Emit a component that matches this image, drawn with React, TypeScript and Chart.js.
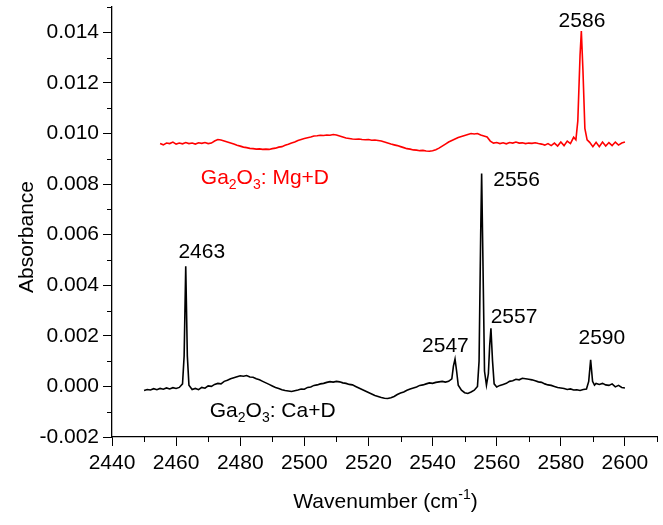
import React, { useEffect, useRef } from 'react';
import { Chart, registerables } from 'chart.js';

Chart.register(...registerables);

// ---- Data ----
const caWavenumber = [
  2450, 2451, 2452, 2453, 2454, 2455, 2456, 2457, 2458, 2459, 2460, 2461, 2462, 2462.5, 2463, 2463.5, 2464,
  2465, 2466, 2467, 2468, 2469, 2470, 2471, 2472, 2473, 2474, 2475, 2476, 2477, 2478, 2479, 2480,
  2481, 2482, 2483, 2484, 2485, 2486, 2487, 2488, 2489, 2490, 2491, 2492, 2493, 2494, 2495, 2496,
  2497, 2498, 2499, 2500, 2501, 2502, 2503, 2504, 2505, 2506, 2507, 2508, 2509, 2510, 2511, 2512,
  2513, 2514, 2515, 2516, 2517, 2518, 2519, 2520, 2521, 2522, 2523, 2524, 2525, 2526, 2527, 2528,
  2529, 2530, 2531, 2532, 2533, 2534, 2535, 2536, 2537, 2538, 2539, 2540, 2541, 2542, 2543, 2544,
  2545, 2546, 2546.5, 2547, 2547.5, 2548, 2549, 2550, 2551, 2552, 2553, 2554, 2554.5, 2555, 2555.3,
  2555.7, 2556.2, 2556.8, 2557.4, 2557.8, 2558.2, 2558.7, 2559.2, 2560, 2561, 2562, 2563, 2564, 2565,
  2566, 2567, 2568, 2569, 2570, 2571, 2572, 2573, 2574, 2575, 2576, 2577, 2578, 2579, 2580, 2581,
  2582, 2583, 2584, 2585, 2586, 2587, 2588, 2588.7, 2589.3, 2589.9, 2590.5, 2591, 2592, 2593, 2594,
  2595, 2596, 2597, 2598, 2599, 2600,
];
const caAbsorbance = [
  -0.00016, -0.00012, -0.00014, -0.00009, -0.00013, -0.00008, -0.00011, -0.00006, -0.0001, -0.00005, -0.00008, -0.00004, 0.0001, 0.0012, 0.00475, 0.0012, 0.00005,
  -0.00012, -0.00008, -0.00013, -0.00004, -0.00007, 0.00002, 0.0, 0.00008, 0.00012, 0.0001, 0.0002, 0.00024, 0.0003, 0.00034, 0.00038, 0.00042,
  0.0004, 0.00043, 0.00037, 0.00036, 0.0003, 0.00026, 0.0002, 0.00014, 0.00008, 0.00002, -0.00004, -0.00008, -0.00013, -0.00016, -0.00018, -0.0002,
  -0.00017, -0.00014, -0.0001, -0.00011, -0.00004, -0.00002, 0.00004, 0.00006, 0.0001, 0.00012, 0.00016, 0.00019, 0.00017, 0.0002, 0.00018, 0.00014,
  0.00012, 0.00008, 0.00006, 0.0, -0.00006, -0.00012, -0.00018, -0.00024, -0.0003, -0.00036, -0.0004, -0.00044, -0.00047, -0.00048, -0.00045, -0.0004,
  -0.00032, -0.00026, -0.00022, -0.00015, -0.0001, -0.00006, -0.00002, 0.00004, 0.00006, 0.0001, 0.00014, 0.00012, 0.00016, 0.00018, 0.0002, 0.00017,
  0.0002, 0.0003, 0.0008, 0.00108, 0.0006, 0.00005, -0.00015, -0.00025, -0.00028, -0.00022, -0.00015, 0.0, 0.001, 0.006, 0.00842,
  0.005, 0.0006, 0.00005, 0.0005, 0.0016, 0.0023, 0.001, 0.0001, -0.00002, 0.00004, 0.00008, 0.00012, 0.0002, 0.00022,
  0.00028, 0.00026, 0.00032, 0.0003, 0.00028, 0.00026, 0.00022, 0.00018, 0.00016, 0.0001, 0.00006, 0.00004, 0.0, -0.00004, -0.00006, -0.00008,
  -0.00012, -0.0001, -0.00014, -0.00013, -0.00016, -0.00012, -0.0001, 0.0002, 0.00105, 0.0002, 0.00005, 0.00012, 0.00008, 0.00012, 0.00006,
  0.00004, 0.0001, -0.00002, 0.00004, -0.00004, -0.00006,
];

const mgWavenumber = [
  2455, 2456, 2457, 2458, 2459, 2460, 2461, 2462, 2463, 2464, 2465, 2466, 2467, 2468, 2469, 2470,
  2471, 2472, 2473, 2474, 2475, 2476, 2477, 2478, 2479, 2480, 2481, 2482, 2483, 2484, 2485, 2486,
  2487, 2488, 2489, 2490, 2491, 2492, 2493, 2494, 2495, 2496, 2497, 2498, 2499, 2500, 2501, 2502,
  2503, 2504, 2505, 2506, 2507, 2508, 2509, 2510, 2511, 2512, 2513, 2514, 2515, 2516, 2517, 2518,
  2519, 2520, 2521, 2522, 2523, 2524, 2525, 2526, 2527, 2528, 2529, 2530, 2531, 2532, 2533, 2534,
  2535, 2536, 2537, 2538, 2539, 2540, 2541, 2542, 2543, 2544, 2545, 2546, 2547, 2548, 2549, 2550,
  2551, 2552, 2553, 2554, 2555, 2556, 2557, 2558, 2559, 2560, 2561, 2562, 2563, 2564, 2565, 2566,
  2567, 2568, 2569, 2570, 2571, 2572, 2573, 2574, 2575, 2576, 2577, 2578, 2579, 2580, 2581, 2582,
  2583, 2584, 2584.7, 2585.3, 2586, 2586.4, 2586.9, 2587.5, 2588.2, 2589, 2590, 2591, 2592, 2593,
  2594, 2595, 2596, 2597, 2598, 2599, 2600,
];
const mgAbsorbance = [
  0.0096, 0.00955, 0.00962, 0.0096, 0.00966, 0.00958, 0.00962, 0.00959, 0.00964, 0.0096, 0.00962, 0.00958, 0.00963, 0.00961, 0.00964, 0.0096,
  0.00962, 0.0097, 0.00976, 0.00974, 0.0097, 0.00966, 0.00962, 0.00958, 0.00953, 0.0095, 0.00946, 0.00944, 0.00941, 0.0094, 0.00938, 0.00939,
  0.00937, 0.00938, 0.00937, 0.0094, 0.00942, 0.00946, 0.00948, 0.00953, 0.00957, 0.00962, 0.00966, 0.00972, 0.00976, 0.0098, 0.00983, 0.00986,
  0.0099, 0.00991, 0.00993, 0.00992, 0.00994, 0.00993, 0.00996, 0.00994, 0.0099, 0.00986, 0.00982, 0.0098, 0.00978, 0.00977, 0.00978, 0.00976,
  0.00975, 0.00976, 0.00973, 0.00974, 0.00972, 0.0097, 0.00966, 0.00962, 0.00958, 0.00955, 0.00952, 0.00948, 0.00944, 0.0094, 0.00938, 0.00935,
  0.00934, 0.00932, 0.00933, 0.00931, 0.0093, 0.00932, 0.00936, 0.00942, 0.0095, 0.00958, 0.00966, 0.00972, 0.00978, 0.00984, 0.00988, 0.00992,
  0.00996, 0.01, 0.00998, 0.01, 0.00994, 0.0099, 0.00986, 0.0097, 0.00962, 0.00964, 0.0096, 0.00963, 0.00959, 0.00964, 0.00962, 0.00966,
  0.00962, 0.00963, 0.0096, 0.00962, 0.00961, 0.00963, 0.0096, 0.00958, 0.00954, 0.0096, 0.00952, 0.00962, 0.0095, 0.00966, 0.00952, 0.0097,
  0.0096, 0.00985, 0.00975, 0.0105, 0.0131, 0.01405, 0.0125, 0.0102, 0.00975, 0.00965, 0.00948, 0.00965, 0.00948, 0.00966,
  0.0095, 0.00964, 0.00952, 0.00966, 0.00954, 0.00962, 0.00966,
];

const xTickValues = [2440, 2460, 2480, 2500, 2520, 2540, 2560, 2580, 2600];
const xMinorTickValues = [2450, 2470, 2490, 2510, 2530, 2550, 2570, 2590, 2610];
const yTickValues = [-0.002, 0, 0.002, 0.004, 0.006, 0.008, 0.01, 0.012, 0.014];
const yMinorTickValues = [-0.001, 0.001, 0.003, 0.005, 0.007, 0.009, 0.011, 0.013, 0.015];
const xRange = [2440, 2610];
const yRange = [-0.002, 0.015];

const xTitle = 'Wavenumber (cm';
const xTitleSup = '-1';
const yTitle = 'Absorbance';

// Annotations anchored in data coordinates (x = wavenumber, y = absorbance at text baseline)
const peakLabels = [
  { text: '2586', x: 2586.6, y: 0.0142, color: '#000' },
  { text: '2463', x: 2468.0, y: 0.00509, color: '#000' },
  { text: '2556', x: 2566.2, y: 0.00791, color: '#000' },
  { text: '2557', x: 2565.4, y: 0.0025, color: '#000' },
  { text: '2547', x: 2544.0, y: 0.00138, color: '#000' },
  { text: '2590', x: 2592.8, y: 0.00167, color: '#000' },
];
const sampleLabels = [
  { parts: ['Ga', '2', 'O', '3', ': Mg+D'], x: 2467.7, y: 0.00802, color: '#ff0000' },
  { parts: ['Ga', '2', 'O', '3', ': Ca+D'], x: 2470.5, y: -0.00121, color: '#000' },
];

const FONT = '"Liberation Sans", Arial, Helvetica, sans-serif';
const FS = 21;

const annotationPlugin = {
  id: 'annotationsAndTitles',
  afterDraw(chart: any) {
    const ctx = chart.ctx as CanvasRenderingContext2D;
    const xs = chart.scales.x;
    const ys = chart.scales.y;
    const area = chart.chartArea;
    ctx.save();
    // minor ticks
    ctx.strokeStyle = '#000';
    ctx.lineWidth = 1;
    ctx.beginPath();
    for (const v of xMinorTickValues) {
      const px = Math.round(xs.getPixelForValue(v)) + 0.5;
      ctx.moveTo(px, area.bottom);
      ctx.lineTo(px, area.bottom + 5);
    }
    for (const v of yMinorTickValues) {
      const py = Math.round(ys.getPixelForValue(v)) + 0.5;
      ctx.moveTo(area.left, py);
      ctx.lineTo(area.left - 5, py);
    }
    ctx.stroke();

    ctx.font = `${FS}px ${FONT}`;
    ctx.textBaseline = 'alphabetic';
    // peak labels
    ctx.textAlign = 'center';
    for (const l of peakLabels) {
      ctx.fillStyle = l.color;
      ctx.fillText(l.text, xs.getPixelForValue(l.x), ys.getPixelForValue(l.y));
    }
    // sample labels with subscripts
    ctx.textAlign = 'left';
    for (const l of sampleLabels) {
      let px = xs.getPixelForValue(l.x);
      const py = ys.getPixelForValue(l.y);
      ctx.fillStyle = l.color;
      l.parts.forEach((p, i) => {
        const sub = i === 1 || i === 3;
        ctx.font = sub ? `${Math.round(FS * 0.65)}px ${FONT}` : `${FS}px ${FONT}`;
        ctx.fillText(p, px, py + (sub ? 5 : 0));
        px += ctx.measureText(p).width;
      });
    }
    // y title
    ctx.fillStyle = '#000';
    ctx.font = `${FS}px ${FONT}`;
    ctx.save();
    ctx.translate(33, 237);
    ctx.rotate(-Math.PI / 2);
    ctx.textAlign = 'center';
    ctx.fillText(yTitle, 0, 0);
    ctx.restore();
    // x title with superscript
    ctx.font = `${FS}px ${FONT}`;
    const w1 = ctx.measureText(xTitle).width;
    ctx.font = `${Math.round(FS * 0.65)}px ${FONT}`;
    const w2 = ctx.measureText(xTitleSup).width;
    ctx.font = `${FS}px ${FONT}`;
    const w3 = ctx.measureText(')').width;
    const total = w1 + w2 + w3;
    const cx = (area.left + area.right) / 2 + 1;
    let tx = cx - total / 2;
    const ty = 508;
    ctx.textAlign = 'left';
    ctx.fillText(xTitle, tx, ty);
    tx += w1;
    ctx.font = `${Math.round(FS * 0.65)}px ${FONT}`;
    ctx.fillText(xTitleSup, tx, ty - 9);
    tx += w2;
    ctx.font = `${FS}px ${FONT}`;
    ctx.fillText(')', tx, ty);
    ctx.restore();
  },
};

export default function App() {
  const canvasRef = useRef<HTMLCanvasElement | null>(null);

  useEffect(() => {
    if (!canvasRef.current) return;
    const chart = new Chart(canvasRef.current, {
      type: 'line',
      data: {
        datasets: [
          {
            label: 'Ga2O3: Ca+D',
            data: caWavenumber.map((x, i) => ({ x, y: caAbsorbance[i] })),
            borderColor: '#000000',
            borderWidth: 1.6,
            pointRadius: 0,
            tension: 0,
            fill: false,
          },
          {
            label: 'Ga2O3: Mg+D',
            data: mgWavenumber.map((x, i) => ({ x, y: mgAbsorbance[i] })),
            borderColor: '#ff0000',
            borderWidth: 1.6,
            pointRadius: 0,
            tension: 0,
            fill: false,
          },
        ],
      },
      options: {
        animation: false,
        responsive: false,
        layout: { padding: { left: 0, right: 6, top: 7, bottom: 0 } },
        plugins: { legend: { display: false }, tooltip: { enabled: false } },
        scales: {
          x: {
            type: 'linear',
            min: xRange[0],
            max: xRange[1],
            afterBuildTicks: (s: any) => {
              s.ticks = xTickValues.map((v) => ({ value: v }));
            },
            afterFit: (s: any) => {
              s.height = 88;
              s.paddingLeft = 0;
              s.paddingRight = 0;
            },
            grid: { drawOnChartArea: false, drawTicks: true, tickLength: 9, tickColor: '#000', color: '#000' },
            border: { display: true, color: '#000', width: 1.3 },
            ticks: {
              color: '#000',
              font: { family: FONT, size: FS },
              padding: 5,
              autoSkip: false,
              maxRotation: 0,
              callback: (v: any) => String(v),
            },
          },
          y: {
            type: 'linear',
            min: yRange[0],
            max: yRange[1],
            afterBuildTicks: (s: any) => {
              s.ticks = yTickValues.map((v) => ({ value: v }));
            },
            afterFit: (s: any) => {
              s.width = 112;
              s.paddingTop = 0;
              s.paddingBottom = 0;
            },
            grid: { drawOnChartArea: false, drawTicks: true, tickLength: 9, tickColor: '#000', color: '#000' },
            border: { display: true, color: '#000', width: 1.3 },
            ticks: {
              color: '#000',
              font: { family: FONT, size: FS },
              padding: 4,
              autoSkip: false,
              callback: (v: any) => Number(v).toFixed(3),
            },
          },
        },
      },
      plugins: [annotationPlugin],
    });
    return () => chart.destroy();
  }, []);

  return (
    <div style={{ position: 'absolute', left: 0, top: 0, width: 663, height: 525, background: '#fff' }}>
      <canvas ref={canvasRef} width={663} height={525} />
    </div>
  );
}
